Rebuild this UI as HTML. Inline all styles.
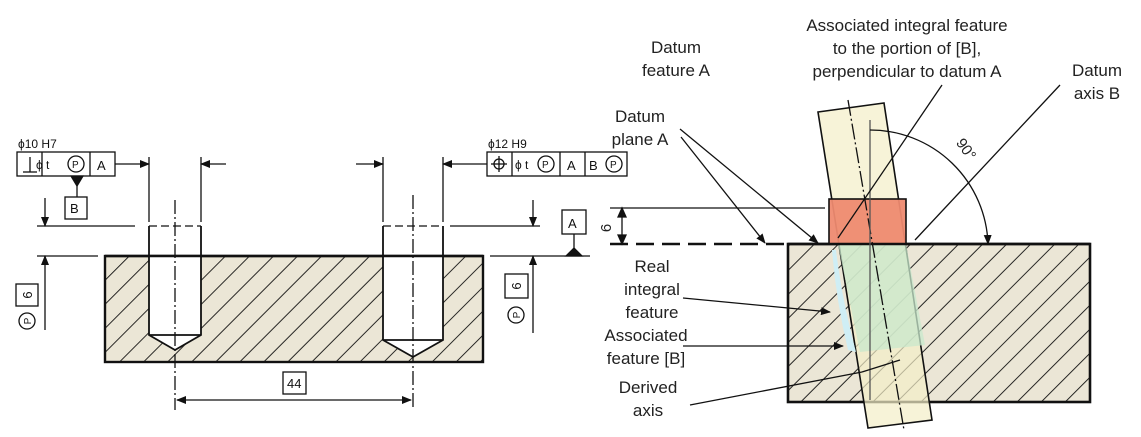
<!DOCTYPE html>
<html><head><meta charset="utf-8"><style>
html,body{margin:0;padding:0;background:#fff;}
svg{display:block;font-family:"Liberation Sans",sans-serif;}
</style></head><body>
<svg width="1141" height="437" viewBox="0 0 1141 437" xmlns="http://www.w3.org/2000/svg">
<defs>
<pattern id="h" patternUnits="userSpaceOnUse" width="17" height="17" patternTransform="rotate(45)">
<rect width="17" height="17" fill="#ebe6d6"/><line x1="0" y1="0" x2="0" y2="17" stroke="#111" stroke-width="1.8"/>
</pattern>
<marker id="a" markerWidth="10" markerHeight="8" refX="9" refY="4" orient="auto" markerUnits="userSpaceOnUse"><path d="M0,0 L10,4 L0,8z" fill="#111"/></marker>
</defs>
<g stroke="#111" fill="none" stroke-width="1.3">
<rect x="105" y="256" width="378" height="106" fill="url(#h)" stroke-width="2.4"/>
<path d="M149,256 L149,335 L175,350 L201,335 L201,256 Z" fill="#fff" stroke="none"/>
<path d="M149,226 V335 L175,350 L201,335 V226" stroke-width="1.8"/>
<line x1="149" y1="226" x2="201" y2="226" stroke-dasharray="8,4"/>
<line x1="149" y1="335" x2="201" y2="335" stroke-width="1.8"/>
<path d="M383,256 L383,340 L413,357 L443,340 L443,256 Z" fill="#fff" stroke="none"/>
<path d="M383,226 V340 L413,357 L443,340 V226" stroke-width="1.8"/>
<line x1="383" y1="226" x2="443" y2="226" stroke-dasharray="8,4"/>
<line x1="383" y1="340" x2="443" y2="340" stroke-width="1.8"/>
<line x1="105" y1="256" x2="483" y2="256" stroke-width="2.4"/>
<line x1="175" y1="200" x2="175" y2="410" stroke-dasharray="14,3,2,3"/>
<line x1="413" y1="195" x2="413" y2="410" stroke-dasharray="14,3,2,3"/>
<line x1="185" y1="400" x2="411" y2="400" marker-end="url(#a)"/>
<line x1="185" y1="400" x2="177" y2="400" marker-end="url(#a)"/>
<rect x="283" y="372" width="23" height="22"/>
<line x1="149" y1="157" x2="149" y2="222"/><line x1="201" y1="157" x2="201" y2="222"/>
<line x1="115" y1="164" x2="149" y2="164" marker-end="url(#a)"/>
<line x1="226" y1="164" x2="201" y2="164" marker-end="url(#a)"/>
<line x1="383" y1="157" x2="383" y2="222"/><line x1="443" y1="157" x2="443" y2="222"/>
<line x1="356" y1="164" x2="383" y2="164" marker-end="url(#a)"/>
<line x1="487" y1="164" x2="443" y2="164" marker-end="url(#a)"/>
<rect x="17" y="152" width="98" height="24"/><line x1="42" y1="152" x2="42" y2="176"/><line x1="90" y1="152" x2="90" y2="176"/>
<line x1="23" y1="172" x2="37" y2="172"/><line x1="30" y1="157" x2="30" y2="172"/>
<circle cx="76" cy="164" r="8"/>
<line x1="77" y1="176" x2="77" y2="197"/><path d="M71,176 L83,176 L77,186z" fill="#111"/>
<rect x="65" y="197" width="22" height="22"/>
<line x1="37" y1="226" x2="135" y2="226"/><line x1="37" y1="256" x2="98" y2="256"/>
<line x1="45" y1="198" x2="45" y2="226" marker-end="url(#a)"/>
<line x1="45" y1="330" x2="45" y2="256" marker-end="url(#a)"/>
<rect x="16" y="284" width="22" height="22"/><circle cx="27" cy="321" r="8"/>
<rect x="487" y="152" width="140" height="24"/><line x1="512" y1="152" x2="512" y2="176"/><line x1="560" y1="152" x2="560" y2="176"/><line x1="585" y1="152" x2="585" y2="176"/>
<circle cx="499" cy="164" r="5"/><line x1="499" y1="156" x2="499" y2="172"/><line x1="491" y1="164" x2="507" y2="164"/>
<circle cx="546" cy="164" r="8"/><circle cx="614" cy="164" r="8"/>
<rect x="562" y="210" width="24" height="24"/><line x1="574" y1="234" x2="574" y2="250"/>
<path d="M566,256 L582,256 L574,248z" fill="#111"/>
<line x1="450" y1="226" x2="540" y2="226"/><line x1="490" y1="256" x2="590" y2="256"/>
<line x1="533" y1="200" x2="533" y2="226" marker-end="url(#a)"/>
<line x1="533" y1="333" x2="533" y2="256" marker-end="url(#a)"/>
<rect x="505" y="274" width="23" height="24"/><circle cx="516" cy="315" r="8"/>
</g>
<g font-size="12" fill="#111">
<text x="18" y="148">ϕ10  H7</text>
<text x="36" y="169" font-size="12">ϕ t</text><text x="72" y="168" font-size="10">P</text>
<text x="97" y="170" font-size="13">A</text><text x="70" y="213" font-size="13">B</text>
<text x="488" y="148">ϕ12  H9</text>
<text x="515" y="169">ϕ t</text><text x="542" y="168" font-size="10">P</text>
<text x="567" y="170" font-size="13">A</text><text x="589" y="170" font-size="13">B</text><text x="610" y="168" font-size="10">P</text>
<text x="568" y="228" font-size="13">A</text>
<text x="287" y="388" font-size="13">44</text>
<text transform="translate(32,295) rotate(-90)" text-anchor="middle" font-size="13">6</text>
<text transform="translate(31,321) rotate(-90)" text-anchor="middle" font-size="10">P</text>
<text transform="translate(521,286) rotate(-90)" text-anchor="middle" font-size="13">6</text>
<text transform="translate(520,315) rotate(-90)" text-anchor="middle" font-size="10">P</text>
</g>

<rect x="788" y="244" width="302" height="158" fill="url(#h)" stroke="#111" stroke-width="2.6"/>
<polygon points="818,112 884,103 932,420 868,428" fill="#f3eec8" fill-opacity="0.7" stroke="#111" stroke-width="1.6"/>
<polygon points="838,244 906,244 925,345 860,352" fill="#c8e8cc" fill-opacity="0.75"/>
<rect x="829" y="199" width="77" height="45" fill="#ee8a70" fill-opacity="0.95" stroke="#111" stroke-width="1.6"/>
<path d="M836,250 Q842,300 856,352 L848,350 Q836,300 832,250z" fill="#cfeef5"/>
<g stroke="#111" fill="none" stroke-width="1.3">
<line x1="788" y1="244" x2="1090" y2="244" stroke-width="2.6"/>
<line x1="610" y1="244" x2="788" y2="244" stroke-width="2.6" stroke-dasharray="18,8"/>
<line x1="610" y1="208" x2="825" y2="208"/>
<line x1="622" y1="208" x2="622" y2="244"/>
<path d="M618,217 L622,208 L626,217z M618,235 L622,244 L626,235z" fill="#111"/>
<line x1="848" y1="100" x2="904" y2="430" stroke-dasharray="16,3,2,3"/>
<line x1="870" y1="120" x2="870" y2="400" stroke="#555"/>
<path d="M870,130 A118,118 0 0 1 988,244" marker-end="url(#a)"/>
<line x1="680" y1="129" x2="818" y2="243" marker-end="url(#a)"/>
<line x1="681" y1="137" x2="765" y2="243" marker-end="url(#a)"/>
<line x1="942" y1="85" x2="838" y2="238"/>
<line x1="1060" y1="85" x2="915" y2="240"/>
<line x1="683" y1="298" x2="830" y2="312" marker-end="url(#a)"/>
<line x1="683" y1="346" x2="843" y2="346" marker-end="url(#a)"/>
<line x1="690" y1="405" x2="862" y2="372"/>
<line x1="862" y1="372" x2="900" y2="360"/>
</g>
<g font-size="17" fill="#222" text-anchor="middle">
<text x="907" y="31">Associated integral feature</text>
<text x="907" y="54">to the portion of [B],</text>
<text x="907" y="77">perpendicular to datum A</text>
<text x="676" y="53">Datum</text><text x="676" y="76">feature A</text>
<text x="1097" y="76">Datum</text><text x="1097" y="99">axis B</text>
<text x="640" y="122">Datum</text><text x="640" y="145">plane A</text>
<text x="652" y="272">Real</text><text x="652" y="295">integral</text><text x="652" y="318">feature</text>
<text x="646" y="341">Associated</text><text x="646" y="364">feature [B]</text>
<text x="648" y="393">Derived</text><text x="648" y="416">axis</text>
<text transform="translate(962,152) rotate(55)" font-size="15">90°</text>
<text transform="translate(611,228) rotate(-90)" font-size="15">6</text>
</g>
</svg>
</body></html>
